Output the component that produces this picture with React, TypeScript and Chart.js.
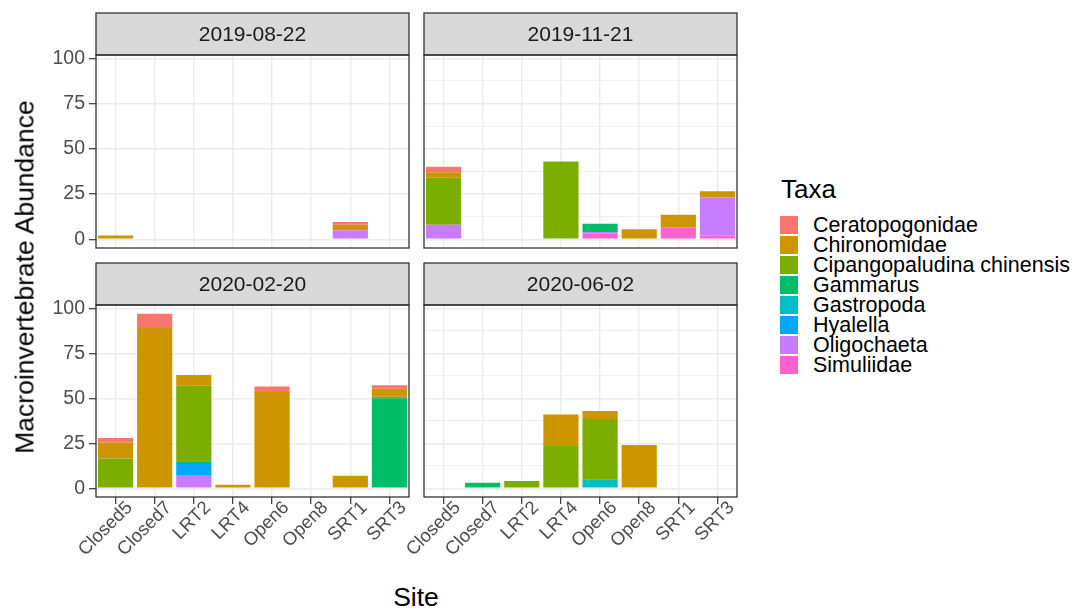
import React, { useEffect, useRef } from "react";
import { Chart, registerables } from "chart.js";

Chart.register(...registerables);

// ---------------- data ----------------
const sites = ["Closed5", "Closed7", "LRT2", "LRT4", "Open6", "Open8", "SRT1", "SRT3"];
const dates = ["2019-08-22", "2019-11-21", "2020-02-20", "2020-06-02"];
const taxa = [
  "Ceratopogonidae",
  "Chironomidae",
  "Cipangopaludina chinensis",
  "Gammarus",
  "Gastropoda",
  "Hyalella",
  "Oligochaeta",
  "Simuliidae",
];
const taxaColors = ["#F8766D", "#CD9600", "#7CAE00", "#00BE67", "#00BFC4", "#00A9FF", "#C77CFF", "#FF61CC"];
const yMajorTicks = [0, 25, 50, 75, 100];
const yMinorTicks = [12.5, 37.5, 62.5, 87.5];

// rows follow `taxa`, columns follow `sites`
const abundance20190822 = [
  [0, 0, 0, 0, 0, 0, 1.5, 0],
  [2, 0, 0, 0, 0, 0, 3, 0],
  [0, 0, 0, 0, 0, 0, 0, 0],
  [0, 0, 0, 0, 0, 0, 0, 0],
  [0, 0, 0, 0, 0, 0, 0, 0],
  [0, 0, 0, 0, 0, 0, 0, 0],
  [0, 0, 0, 0, 0, 0, 5, 0],
  [0, 0, 0, 0, 0, 0, 0, 0],
];
const abundance20191121 = [
  [3, 0, 0, 0, 0, 0, 0, 0],
  [3, 0, 0, 0, 0, 5.5, 7, 3.5],
  [26, 0, 0, 43, 0, 0, 0, 0],
  [0, 0, 0, 0, 4.5, 0, 0, 0],
  [0, 0, 0, 0, 0, 0, 0, 0],
  [0, 0, 0, 0, 0, 0, 0, 0],
  [8, 0, 0, 0, 1, 0, 0, 21],
  [0, 0, 0, 0, 3, 0, 6.5, 2],
];
const abundance20200220 = [
  [2.5, 8, 0, 0, 3, 0, 0, 2],
  [9, 89, 6, 2, 53.5, 0, 7, 4.5],
  [16.5, 0, 42, 0, 0, 0, 0, 0.8],
  [0, 0, 1.5, 0, 0, 0, 0, 50],
  [0, 0, 0, 0, 0, 0, 0, 0],
  [0, 0, 6.5, 0, 0, 0, 0, 0],
  [0, 0, 7, 0, 0, 0, 0, 0],
  [0, 0, 0, 0, 0, 0, 0, 0],
];
const abundance20200602 = [
  [0, 0, 0, 0, 0, 0, 0, 0],
  [0, 0, 0, 17.5, 4.5, 24, 0, 0],
  [0, 0, 4, 23.5, 33.5, 0, 0, 0],
  [0, 3, 0, 0, 0, 0, 0, 0],
  [0, 0, 0, 0, 5, 0, 0, 0],
  [0, 0, 0, 0, 0, 0, 0, 0],
  [0, 0, 0, 0, 0, 0, 0, 0],
  [0, 0, 0, 0, 0, 0, 0, 0],
];
const panelValues = [abundance20190822, abundance20191121, abundance20200220, abundance20200602];

// ---------------- layout ----------------
const FONT = '"Liberation Sans", Arial, Helvetica, sans-serif';
const Y_MIN = -4.85;
const Y_MAX = 101.85;
const STRIP_H = 42;

type PanelBox = {
  cx: number; cy: number; cw: number; ch: number;
  left: number; top: number; right: number; bottom: number;
  showX: boolean; showY: boolean;
};

const panelBoxes: PanelBox[] = [
  { cx: 0, cy: 0, cw: 416, ch: 252, left: 96, top: 55, right: 409, bottom: 248, showX: false, showY: true },
  { cx: 414, cy: 0, cw: 332, ch: 252, left: 424, top: 55, right: 737, bottom: 248, showX: false, showY: false },
  { cx: 0, cy: 250, cw: 430, ch: 330, left: 96, top: 305, right: 409, bottom: 497, showX: true, showY: true },
  { cx: 330, cy: 250, cw: 430, ch: 330, left: 424, top: 305, right: 737, bottom: 497, showX: true, showY: false },
];

const panelDecor = {
  id: "panelDecor",
  afterDraw(chart: any, _args: any, opts: any) {
    const { ctx, chartArea: a } = chart;
    ctx.save();
    ctx.fillStyle = "#D9D9D9";
    ctx.fillRect(a.left, a.top - STRIP_H, a.right - a.left, STRIP_H);
    ctx.strokeStyle = "#333333";
    ctx.lineWidth = 1.3;
    ctx.strokeRect(a.left, a.top - STRIP_H, a.right - a.left, STRIP_H);
    ctx.strokeRect(a.left, a.top, a.right - a.left, a.bottom - a.top);
    ctx.fillStyle = "#1A1A1A";
    ctx.font = `21px ${FONT}`;
    ctx.textAlign = "center";
    ctx.textBaseline = "middle";
    ctx.fillText(opts.label, (a.left + a.right) / 2, a.top - STRIP_H / 2 + 1);
    ctx.restore();
  },
};

const isMajor = (v: number) => yMajorTicks.indexOf(v) >= 0;

const zeroPadding = (s: any) => {
  s.paddingTop = 0;
  s.paddingBottom = 0;
  s.paddingLeft = 0;
  s.paddingRight = 0;
};

function Panel({ index }: { index: number }) {
  const ref = useRef<HTMLCanvasElement | null>(null);
  const box = panelBoxes[index];
  useEffect(() => {
    if (!ref.current) return;
    const values = panelValues[index];
    const datasets = taxa
      .map((t, i) => ({
        label: t,
        data: values[i].map((v) => (v > 0 ? v : null)),
        backgroundColor: taxaColors[i],
        borderWidth: 0,
        barPercentage: 0.9,
        categoryPercentage: 1,
      }))
      .reverse();
    const yAxisW = box.left - box.cx;
    const xAxisH = box.cy + box.ch - box.bottom;
    const chart = new Chart(ref.current, {
      type: "bar",
      data: { labels: sites, datasets },
      plugins: [panelDecor],
      options: {
        animation: false,
        responsive: false,
        maintainAspectRatio: false,
        layout: { padding: { top: box.top - box.cy, right: box.cx + box.cw - box.right, left: 0, bottom: 0 } },
        plugins: {
          legend: { display: false },
          tooltip: { enabled: false },
          // @ts-ignore
          panelDecor: { label: dates[index] },
        },
        scales: {
          x: {
            stacked: true,
            offset: true,
            grid: {
              offset: false,
              color: "#EBEBEB",
              lineWidth: 1.4,
              drawTicks: box.showX,
              tickLength: 7,
              tickColor: "#333333",
              tickWidth: 1.2,
            },
            border: { display: false },
            ticks: {
              display: box.showX,
              autoSkip: false,
              minRotation: 45,
              maxRotation: 45,
              color: "#4D4D4D",
              font: { family: FONT, size: 18.5 },
              padding: -7,
              labelOffset: 14,
            },
            afterFit: (s: any) => {
              s.height = xAxisH;
              zeroPadding(s);
            },
          },
          y: {
            stacked: true,
            min: Y_MIN,
            max: Y_MAX,
            afterBuildTicks: (s: any) => {
              s.ticks = [...yMajorTicks, ...yMinorTicks].sort((a, b) => a - b).map((v) => ({ value: v }));
            },
            grid: {
              color: "#EBEBEB",
              lineWidth: (c: any) => (c.tick && isMajor(c.tick.value) ? 1.4 : 0.7),
              drawTicks: box.showY,
              tickLength: 7,
              tickColor: (c: any) => (c.tick && isMajor(c.tick.value) ? "#333333" : "rgba(0,0,0,0)"),
              tickWidth: 1.2,
            },
            border: { display: false },
            ticks: {
              display: box.showY,
              color: "#4D4D4D",
              font: { family: FONT, size: 19.5 },
              padding: 4,
              callback: (v: any) => (isMajor(Number(v)) ? String(v) : ""),
            },
            afterFit: (s: any) => {
              s.width = yAxisW;
              zeroPadding(s);
            },
          },
        },
      } as any,
    });
    return () => chart.destroy();
  }, [index]);
  return (
    <canvas
      ref={ref}
      width={box.cw}
      height={box.ch}
      style={{ position: "absolute", left: box.cx, top: box.cy, width: box.cw, height: box.ch }}
    />
  );
}

export default function App() {
  return (
    <div
      style={{
        position: "absolute",
        left: 0,
        top: 0,
        width: 1073,
        height: 612,
        background: "#FFFFFF",
        overflow: "hidden",
        fontFamily: FONT,
      }}
    >
      {panelBoxes.map((_, i) => (
        <Panel key={i} index={i} />
      ))}
      <div
        style={{
          position: "absolute",
          left: 25,
          top: 277,
          transform: "translate(-50%, -50%) rotate(-90deg)",
          whiteSpace: "nowrap",
          fontSize: 26.5,
          color: "#000",
        }}
      >
        Macroinvertebrate Abundance
      </div>
      <div
        style={{
          position: "absolute",
          left: 416,
          top: 597,
          transform: "translate(-50%, -50%)",
          whiteSpace: "nowrap",
          fontSize: 26.5,
          color: "#000",
        }}
      >
        Site
      </div>
      <div style={{ position: "absolute", left: 781, top: 176, fontSize: 26, lineHeight: "26px", color: "#000" }}>Taxa</div>
      {taxa.map((t, i) => (
        <React.Fragment key={t}>
          <div
            style={{
              position: "absolute",
              left: 780,
              top: 216 + i * 20,
              width: 18,
              height: 17.5,
              background: taxaColors[i],
            }}
          />
          <div
            style={{
              position: "absolute",
              left: 813,
              top: 215 + i * 20,
              height: 20,
              lineHeight: "20px",
              fontSize: 21.5,
              color: "#000",
              whiteSpace: "nowrap",
            }}
          >
            {t}
          </div>
        </React.Fragment>
      ))}
    </div>
  );
}
